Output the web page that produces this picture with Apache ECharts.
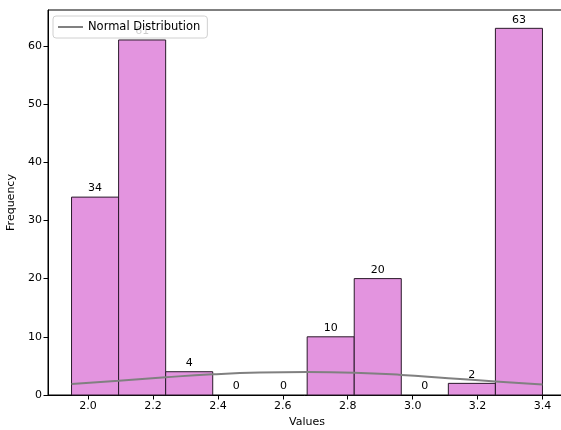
<!DOCTYPE html>
<html>
<head>
<meta charset="utf-8">
<script src="https://cdn.jsdelivr.net/npm/echarts@6/dist/echarts.min.js"></script>
<style>
  html, body { margin: 0; padding: 0; background: #fff; }
  #chart { width: 561px; height: 430px; }
</style>
</head>
<body>
<div id="chart"></div>
<script>
// Histogram bin edges and counts
const binEdges = [1.949, 2.094, 2.239, 2.384, 2.529, 2.675, 2.820, 2.965, 3.110, 3.255, 3.400];
const counts = [34, 61, 4, 0, 0, 10, 20, 0, 2, 63];

// Fitted normal curve (scaled to counts), sampled at the bin edges
const curveX = [1.949, 2.094, 2.239, 2.384, 2.529, 2.675, 2.820, 2.965, 3.110, 3.255, 3.400];
const curveY = [1.88, 2.45, 3.05, 3.55, 3.86, 3.95, 3.83, 3.45, 2.88, 2.34, 1.82];

// Axis ticks
const xTicks = [2.0, 2.2, 2.4, 2.6, 2.8, 3.0, 3.2, 3.4];
const yTicks = [0, 10, 20, 30, 40, 50, 60];

const FONT = 'DejaVu Sans';

const histData = counts.map((c, i) => [binEdges[i], binEdges[i + 1], c]);
const curveData = curveX.map((x, i) => [x, curveY[i]]);

const span = binEdges[binEdges.length - 1] - binEdges[0];
const xMin = binEdges[0] - span * 0.05;
const xMax = binEdges[binEdges.length - 1] + span * 0.05;
const yMax = Math.max(...counts) * 1.05;

const chart = echarts.init(document.getElementById('chart'));
chart.setOption({
  animation: false,
  textStyle: { fontFamily: FONT },
  grid: {
    left: 48, top: 10, right: -5, bottom: 35,
    outerBoundsMode: 'none', containLabel: false,
    show: true, borderColor: '#000', borderWidth: 1, backgroundColor: 'transparent'
  },
  legend: {
    left: 53, top: 16,
    padding: [5, 7, 5, 5],
    backgroundColor: 'rgba(255,255,255,0.8)',
    borderColor: '#d0d0d0', borderWidth: 1, borderRadius: 3,
    itemWidth: 25, itemHeight: 2, itemGap: 10,
    textStyle: { fontFamily: FONT, fontSize: 11.5, color: '#000' },
    data: [{ name: 'Normal Distribution', icon: 'rect' }]
  },
  xAxis: {
    type: 'value', min: xMin, max: xMax,
    name: 'Values', nameLocation: 'middle', nameGap: 22,
    nameTextStyle: { fontFamily: FONT, fontSize: 11, color: '#000' },
    axisLine: { show: true, lineStyle: { color: '#000', width: 1 } },
    axisTick: { show: true, length: 4.5, lineStyle: { color: '#000' }, customValues: xTicks },
    axisLabel: {
      fontFamily: FONT, fontSize: 11, color: '#000', margin: 6,
      customValues: xTicks, formatter: v => v.toFixed(1)
    },
    splitLine: { show: false }
  },
  yAxis: {
    type: 'value', min: 0, max: yMax,
    name: 'Frequency', nameLocation: 'middle', nameGap: 28,
    nameTextStyle: { fontFamily: FONT, fontSize: 11, color: '#000' },
    axisLine: { show: true, lineStyle: { color: '#000', width: 1 } },
    axisTick: { show: true, length: 4.5, lineStyle: { color: '#000' }, customValues: yTicks },
    axisLabel: {
      fontFamily: FONT, fontSize: 11, color: '#000', margin: 6,
      customValues: yTicks
    },
    splitLine: { show: false }
  },
  series: [
    {
      type: 'custom',
      name: 'Histogram',
      z: 2,
      data: histData,
      encode: { x: [0, 1], y: 2 },
      renderItem: function (params, api) {
        const x0 = api.value(0), x1 = api.value(1), c = api.value(2);
        const p0 = api.coord([x0, 0]);
        const p1 = api.coord([x1, c]);
        const children = [];
        if (c > 0) {
          children.push({
            type: 'rect',
            shape: { x: p0[0], y: p1[1], width: p1[0] - p0[0], height: p0[1] - p1[1] },
            style: { fill: '#e394df', stroke: '#2a1a2a', lineWidth: 1 }
          });
        }
        children.push({
          type: 'text',
          style: {
            text: String(c),
            x: (p0[0] + p1[0]) / 2, y: p1[1] - 3,
            align: 'center', verticalAlign: 'bottom',
            fontFamily: FONT, fontSize: 11, fill: '#000'
          }
        });
        return { type: 'group', children: children };
      }
    },
    {
      type: 'line',
      name: 'Normal Distribution',
      z: 3,
      data: curveData,
      smooth: true,
      showSymbol: false,
      lineStyle: { color: '#808080', width: 2 },
      itemStyle: { color: '#808080' }
    }
  ]
});
</script>
</body>
</html>
